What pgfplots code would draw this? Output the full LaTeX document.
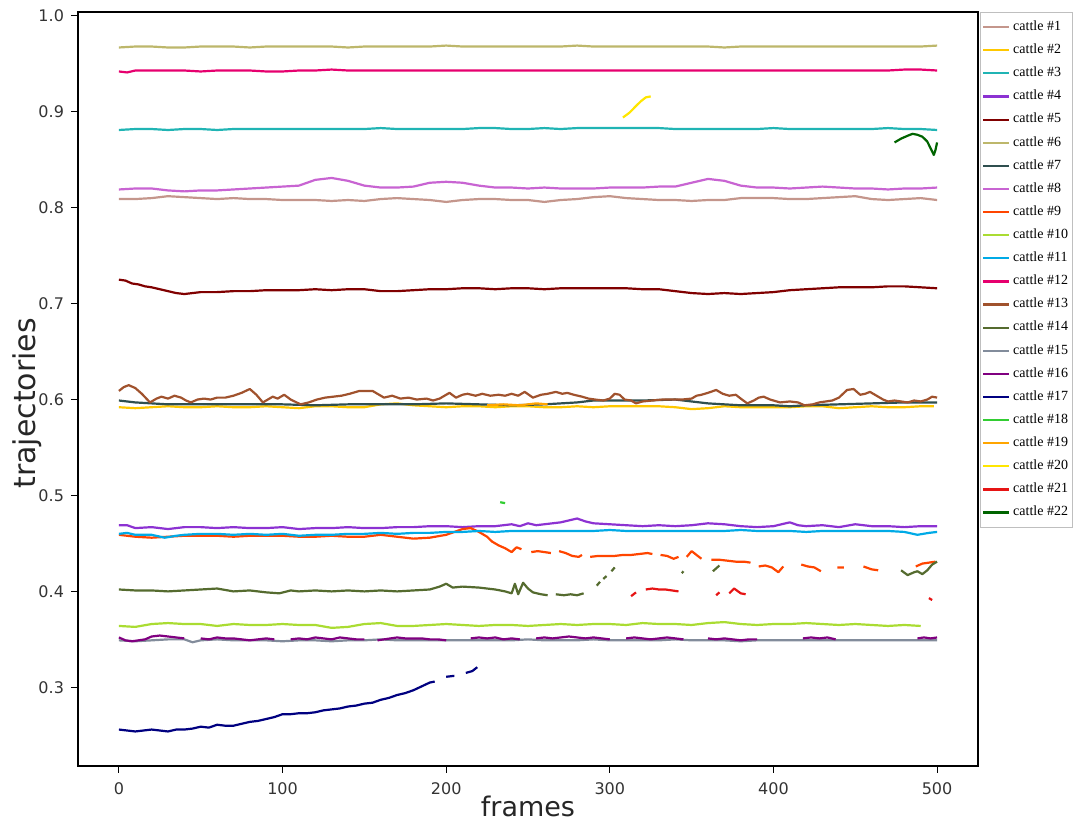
\documentclass[border=0pt]{standalone}
\usepackage{fontspec}
\setmainfont{DejaVu Sans}
\newfontfamily\legfont{Liberation Serif}
\usepackage{pgfplots}
\pgfplotsset{compat=1.18}
\definecolor{c1}{RGB}{196,150,140}
\definecolor{c2}{RGB}{255,200,0}
\definecolor{c3}{RGB}{32,180,180}
\definecolor{c4}{RGB}{140,50,210}
\definecolor{c5}{RGB}{128,0,0}
\definecolor{c6}{RGB}{189,183,107}
\definecolor{c7}{RGB}{47,79,79}
\definecolor{c8}{RGB}{200,100,210}
\definecolor{c9}{RGB}{255,69,0}
\definecolor{c10}{RGB}{170,220,50}
\definecolor{c11}{RGB}{0,170,230}
\definecolor{c12}{RGB}{230,0,110}
\definecolor{c13}{RGB}{160,82,45}
\definecolor{c14}{RGB}{85,107,47}
\definecolor{c15}{RGB}{130,140,155}
\definecolor{c16}{RGB}{128,0,128}
\definecolor{c17}{RGB}{0,0,128}
\definecolor{c18}{RGB}{50,205,50}
\definecolor{c19}{RGB}{255,165,0}
\definecolor{c20}{RGB}{255,230,0}
\definecolor{c21}{RGB}{230,20,20}
\definecolor{c22}{RGB}{0,100,0}
\begin{document}
\begin{tikzpicture}
\begin{axis}[
  name=ax,
  scale only axis,
  width=450pt, height=377pt,
  xmin=-25, xmax=525,
  ymin=0.218, ymax=1.004,
  xtick={0,100,200,300,400,500},
  ytick={0.3,0.4,0.5,0.6,0.7,0.8,0.9,1.0},
  yticklabel style={/pgf/number format/fixed,/pgf/number format/precision=1,/pgf/number format/fixed zerofill},
  xticklabel style={yshift=-1.5pt},
  /pgf/number format/assume math mode=true,
  tick pos=left,
  tick align=outside,
  major tick length=3.5pt,
  tick style={black, line width=0.5pt},
  axis line style={black, line width=0.6pt},
  ticklabel style={font=\fontsize{8}{9}\selectfont, text=black!80},
  xlabel={frames}, ylabel={trajectories},
  xlabel style={font=\fontsize{13.5}{15}\selectfont, text=black!85, at={(axis description cs:0.5,-0.053)}, anchor=center},
  ylabel style={font=\fontsize{15}{17}\selectfont, text=black!85, at={(axis description cs:-0.0567,0.481)}, anchor=center},
  unbounded coords=jump,
  every axis plot/.append style={line width=1.1pt, line join=round},
  legend cell align=left,
  legend style={at={(axis description cs:1,1)}, anchor=north west, xshift=1pt,
    draw=black!25, font=\legfont\fontsize{7}{8}\selectfont, row sep=0.8pt,
    inner xsep=1pt,
    nodes={inner xsep=1.3pt, inner ysep=2.2pt}},
  legend image code/.code={\draw[#1] (0pt,0pt) -- (13pt,0pt);},
]
% cattle 1
\addplot[c1] coordinates {(0,0.809)(10,0.809)(20,0.810)(30,0.812)(40,0.811)(50,0.810)(60,0.809)(70,0.810)(80,0.809)(90,0.809)(100,0.808)(110,0.808)(120,0.808)(130,0.807)(140,0.808)(150,0.807)(160,0.809)(170,0.810)(180,0.809)(190,0.808)(200,0.806)(210,0.808)(220,0.809)(230,0.809)(240,0.808)(250,0.808)(260,0.806)(270,0.808)(280,0.809)(290,0.811)(300,0.812)(310,0.810)(320,0.809)(330,0.808)(340,0.808)(350,0.807)(360,0.808)(370,0.808)(380,0.810)(390,0.810)(400,0.810)(410,0.809)(420,0.809)(430,0.810)(440,0.811)(450,0.812)(460,0.809)(470,0.808)(480,0.809)(490,0.810)(500,0.808)};
\addlegendentry{cattle \#1}
% cattle 2
\addplot[c2] coordinates {(0,0.592)(10,0.591)(20,0.592)(30,0.593)(40,0.592)(50,0.592)(60,0.593)(70,0.592)(80,0.592)(90,0.593)(100,0.592)(110,0.591)(120,0.593)(130,0.593)(140,0.592)(150,0.592)(160,0.595)(170,0.596)(180,0.594)(190,0.593)(200,0.592)(210,0.593)(220,0.593)(230,0.592)(240,0.593)(250,0.593)(260,0.592)(270,0.592)(280,0.593)(290,0.592)(300,0.593)(310,0.593)(320,0.593)(330,0.593)(340,0.592)(350,0.590)(360,0.591)(370,0.593)(380,0.592)(390,0.592)(400,0.592)(410,0.592)(420,0.593)(430,0.593)(440,0.591)(450,0.592)(460,0.593)(470,0.592)(480,0.592)(490,0.593)(498,0.593)};
\addlegendentry{cattle \#2}
% cattle 3
\addplot[c3] coordinates {(0,0.881)(10,0.882)(20,0.882)(30,0.881)(40,0.882)(50,0.882)(60,0.881)(70,0.882)(80,0.882)(90,0.882)(100,0.882)(110,0.882)(120,0.882)(130,0.882)(140,0.882)(150,0.882)(160,0.883)(170,0.882)(180,0.882)(190,0.882)(200,0.882)(210,0.882)(220,0.883)(230,0.883)(240,0.882)(250,0.882)(260,0.883)(270,0.882)(280,0.883)(290,0.883)(300,0.883)(310,0.883)(320,0.883)(330,0.883)(340,0.882)(350,0.882)(360,0.882)(370,0.882)(380,0.882)(390,0.882)(400,0.883)(410,0.882)(420,0.882)(430,0.882)(440,0.882)(450,0.882)(460,0.882)(470,0.883)(480,0.882)(490,0.882)(500,0.881)};
\addlegendentry{cattle \#3}
% cattle 4
\addplot[c4] coordinates {(0,0.469)(5,0.469)(10,0.466)(20,0.467)(30,0.465)(40,0.467)(50,0.467)(60,0.466)(70,0.467)(80,0.466)(90,0.466)(100,0.467)(110,0.465)(120,0.466)(130,0.466)(140,0.467)(150,0.466)(160,0.466)(170,0.467)(180,0.467)(190,0.468)(200,0.468)(210,0.467)(220,0.468)(230,0.468)(240,0.470)(245,0.468)(250,0.471)(255,0.469)(260,0.470)(270,0.472)(275,0.474)(280,0.476)(285,0.473)(290,0.471)(300,0.470)(310,0.469)(320,0.468)(330,0.469)(340,0.468)(350,0.469)(360,0.471)(370,0.470)(380,0.468)(390,0.467)(400,0.468)(410,0.472)(415,0.469)(420,0.468)(430,0.469)(440,0.467)(450,0.470)(460,0.468)(470,0.468)(480,0.467)(490,0.468)(500,0.468)};
\addlegendentry{cattle \#4}
% cattle 5
\addplot[c5] coordinates {(0,0.725)(4,0.724)(8,0.721)(12,0.720)(16,0.718)(20,0.717)(25,0.715)(30,0.713)(35,0.711)(40,0.710)(45,0.711)(50,0.712)(60,0.712)(70,0.713)(80,0.713)(90,0.714)(100,0.714)(110,0.714)(120,0.715)(130,0.714)(140,0.715)(150,0.715)(160,0.713)(170,0.713)(180,0.714)(190,0.715)(200,0.715)(210,0.716)(220,0.716)(230,0.715)(240,0.716)(250,0.716)(260,0.715)(270,0.716)(280,0.716)(290,0.716)(300,0.716)(310,0.716)(320,0.715)(330,0.715)(340,0.713)(350,0.711)(360,0.710)(370,0.711)(380,0.710)(390,0.711)(400,0.712)(410,0.714)(420,0.715)(430,0.716)(440,0.717)(450,0.717)(460,0.717)(470,0.718)(480,0.718)(490,0.717)(500,0.716)};
\addlegendentry{cattle \#5}
% cattle 6
\addplot[c6] coordinates {(0,0.967)(10,0.968)(20,0.968)(30,0.967)(40,0.967)(50,0.968)(60,0.968)(70,0.968)(80,0.967)(90,0.968)(100,0.968)(110,0.968)(120,0.968)(130,0.968)(140,0.967)(150,0.968)(160,0.968)(170,0.968)(180,0.968)(190,0.968)(200,0.969)(210,0.968)(220,0.968)(230,0.968)(240,0.968)(250,0.968)(260,0.968)(270,0.968)(280,0.969)(290,0.968)(300,0.968)(310,0.968)(320,0.968)(330,0.968)(340,0.968)(350,0.968)(360,0.968)(370,0.967)(380,0.968)(390,0.968)(400,0.968)(410,0.968)(420,0.968)(430,0.968)(440,0.968)(450,0.968)(460,0.968)(470,0.968)(480,0.968)(490,0.968)(500,0.969)};
\addlegendentry{cattle \#6}
% cattle 7
\addplot[c7] coordinates {(0,0.599)(5,0.598)(10,0.597)(20,0.596)(30,0.595)(40,0.595)(60,0.595)(80,0.595)(100,0.595)(120,0.594)(140,0.595)(160,0.595)(180,0.595)(200,0.596)(220,0.595)(240,0.594)(260,0.595)(270,0.596)(280,0.597)(290,0.599)(300,0.599)(320,0.599)(340,0.600)(350,0.598)(360,0.596)(370,0.595)(380,0.594)(400,0.594)(410,0.593)(420,0.594)(440,0.595)(460,0.596)(480,0.597)(500,0.597)};
\addlegendentry{cattle \#7}
% cattle 8
\addplot[c8] coordinates {(0,0.819)(10,0.820)(20,0.820)(30,0.818)(40,0.817)(50,0.818)(60,0.818)(70,0.819)(80,0.820)(90,0.821)(100,0.822)(110,0.823)(120,0.829)(130,0.831)(140,0.828)(150,0.823)(160,0.821)(170,0.821)(180,0.822)(190,0.826)(200,0.827)(210,0.826)(220,0.823)(230,0.821)(240,0.821)(250,0.820)(260,0.821)(270,0.820)(280,0.820)(290,0.820)(300,0.821)(310,0.821)(320,0.821)(330,0.822)(340,0.822)(350,0.826)(360,0.830)(370,0.828)(380,0.823)(390,0.821)(400,0.821)(410,0.820)(420,0.821)(430,0.822)(440,0.821)(450,0.820)(460,0.820)(470,0.819)(480,0.820)(490,0.820)(500,0.821)};
\addlegendentry{cattle \#8}
% cattle 9
\addplot[c9] coordinates {(0,0.459)(5,0.458)(10,0.457)(20,0.456)(30,0.457)(40,0.458)(50,0.458)(60,0.458)(70,0.457)(80,0.458)(90,0.458)(100,0.458)(110,0.457)(120,0.457)(130,0.458)(140,0.457)(150,0.457)(160,0.459)(170,0.457)(180,0.455)(190,0.456)(200,0.459)(205,0.462)(210,0.465)(215,0.466)(220,0.462)(225,0.457)(228,0.452)(232,0.448)(236,0.445)(240,0.441)(243,0.446)(246,0.444)(248,nan)(252,0.441)(256,0.442)(260,0.441)(264,0.440)(266,nan)(269,0.442)(273,0.440)(277,0.437)(281,0.436)(283,0.438)(285,nan)(288,0.436)(293,0.437)(298,0.437)(303,0.437)(308,0.438)(313,0.438)(318,0.439)(323,0.440)(326,0.439)(328,nan)(331,0.438)(335,0.437)(339,0.434)(342,0.436)(344,nan)(347,0.436)(350,0.442)(353,0.438)(356,0.434)(358,nan)(362,0.433)(367,0.433)(372,0.432)(377,0.431)(382,0.431)(386,0.430)(388,nan)(391,0.426)(395,0.427)(399,0.425)(403,0.420)(406,0.426)(408,nan)(417,0.428)(421,0.426)(425,0.425)(429,0.421)(431,nan)(439,0.425)(443,0.425)(445,nan)(455,0.426)(460,0.423)(464,0.422)(466,nan)(487,0.426)(491,0.429)(495,0.430)(499,0.431)};
\addlegendentry{cattle \#9}
% cattle 10
\addplot[c10] coordinates {(0,0.364)(10,0.363)(20,0.366)(30,0.367)(40,0.366)(50,0.366)(60,0.364)(70,0.366)(80,0.365)(90,0.365)(100,0.366)(110,0.365)(120,0.365)(130,0.362)(140,0.363)(150,0.366)(160,0.367)(170,0.364)(180,0.364)(190,0.365)(200,0.366)(210,0.365)(220,0.364)(230,0.365)(240,0.365)(250,0.364)(260,0.365)(270,0.366)(280,0.365)(290,0.366)(300,0.366)(310,0.365)(320,0.367)(330,0.366)(340,0.366)(350,0.365)(360,0.367)(370,0.368)(380,0.366)(390,0.365)(400,0.366)(410,0.366)(420,0.367)(430,0.366)(440,0.365)(450,0.366)(460,0.365)(470,0.364)(480,0.365)(490,0.364)};
\addlegendentry{cattle \#10}
% cattle 11
\addplot[c11] coordinates {(0,0.460)(5,0.461)(10,0.459)(20,0.459)(28,0.456)(35,0.458)(40,0.459)(50,0.460)(60,0.460)(70,0.459)(80,0.460)(90,0.459)(100,0.460)(110,0.458)(120,0.459)(130,0.459)(140,0.460)(150,0.460)(160,0.461)(170,0.460)(180,0.461)(190,0.461)(200,0.462)(210,0.462)(220,0.463)(230,0.462)(240,0.463)(250,0.463)(260,0.463)(270,0.463)(280,0.463)(290,0.463)(300,0.464)(310,0.463)(320,0.463)(330,0.463)(340,0.463)(350,0.463)(360,0.463)(370,0.463)(380,0.464)(390,0.463)(400,0.463)(410,0.463)(420,0.462)(430,0.463)(440,0.463)(450,0.463)(460,0.463)(470,0.463)(480,0.462)(488,0.459)(495,0.461)(500,0.462)};
\addlegendentry{cattle \#11}
% cattle 12
\addplot[c12] coordinates {(0,0.942)(5,0.941)(10,0.943)(20,0.943)(30,0.943)(40,0.943)(50,0.942)(60,0.943)(70,0.943)(80,0.943)(90,0.942)(100,0.942)(110,0.943)(120,0.943)(130,0.944)(140,0.943)(150,0.943)(160,0.943)(170,0.943)(180,0.943)(190,0.943)(200,0.943)(210,0.943)(220,0.943)(230,0.943)(240,0.943)(250,0.943)(260,0.943)(270,0.943)(280,0.943)(290,0.943)(300,0.943)(310,0.943)(320,0.943)(330,0.943)(340,0.943)(350,0.943)(360,0.943)(370,0.943)(380,0.943)(390,0.943)(400,0.943)(410,0.943)(420,0.943)(430,0.943)(440,0.943)(450,0.943)(460,0.943)(470,0.943)(480,0.944)(490,0.944)(500,0.943)};
\addlegendentry{cattle \#12}
% cattle 13
\addplot[c13] coordinates {(0,0.609)(3,0.613)(6,0.615)(10,0.612)(14,0.606)(19,0.597)(23,0.601)(26,0.603)(30,0.601)(34,0.604)(38,0.602)(41,0.599)(44,0.597)(48,0.600)(52,0.601)(56,0.600)(60,0.602)(65,0.602)(70,0.604)(75,0.607)(80,0.611)(84,0.605)(88,0.597)(91,0.600)(94,0.603)(97,0.601)(101,0.605)(105,0.600)(111,0.595)(116,0.597)(121,0.600)(126,0.602)(131,0.603)(136,0.604)(141,0.606)(147,0.609)(155,0.609)(162,0.602)(167,0.604)(172,0.601)(177,0.602)(182,0.600)(188,0.601)(192,0.599)(196,0.601)(202,0.607)(206,0.602)(210,0.605)(213,0.606)(218,0.604)(222,0.606)(227,0.604)(232,0.605)(236,0.604)(240,0.606)(244,0.604)(248,0.608)(253,0.602)(258,0.605)(262,0.606)(267,0.608)(271,0.606)(274,0.607)(278,0.605)(283,0.603)(287,0.601)(291,0.600)(296,0.599)(300,0.601)(303,0.606)(306,0.605)(309,0.600)(313,0.599)(316,0.596)(320,0.598)(326,0.599)(332,0.600)(338,0.600)(344,0.600)(350,0.601)(353,0.604)(356,0.605)(360,0.607)(365,0.610)(369,0.606)(373,0.604)(377,0.605)(380,0.601)(384,0.596)(388,0.599)(391,0.602)(394,0.603)(398,0.600)(404,0.597)(410,0.598)(415,0.597)(419,0.594)(424,0.595)(428,0.597)(432,0.598)(436,0.599)(440,0.602)(445,0.610)(449,0.611)(453,0.605)(456,0.606)(459,0.608)(463,0.604)(467,0.600)(470,0.598)(474,0.599)(478,0.598)(482,0.597)(486,0.599)(490,0.598)(494,0.600)(497,0.603)(500,0.602)};
\addlegendentry{cattle \#13}
% cattle 14
\addplot[c14] coordinates {(0,0.402)(10,0.401)(20,0.401)(30,0.400)(40,0.401)(50,0.402)(60,0.403)(70,0.400)(80,0.401)(90,0.399)(98,0.398)(105,0.401)(110,0.400)(120,0.401)(130,0.400)(140,0.401)(150,0.400)(160,0.401)(170,0.400)(180,0.401)(190,0.402)(196,0.405)(200,0.408)(204,0.404)(210,0.405)(220,0.404)(230,0.402)(236,0.400)(240,0.398)(242,0.408)(244,0.397)(247,0.409)(250,0.403)(253,0.399)(258,0.397)(262,0.396)(264,nan)(267,0.397)(272,0.396)(276,0.397)(280,0.396)(284,0.398)(286,nan)(292,0.406)(294,0.410)(295,nan)(296,0.413)(298,0.416)(299,nan)(301,0.421)(303,0.425)(305,nan)(344,0.419)(345,0.421)(346,nan)(363,0.421)(365,0.424)(367,0.427)(369,nan)(478,0.422)(482,0.417)(486,0.420)(488,0.421)(491,0.418)(494,0.422)(497,0.428)(500,0.431)};
\addlegendentry{cattle \#14}
% cattle 15
\addplot[c15] coordinates {(0,0.349)(10,0.348)(20,0.349)(30,0.350)(40,0.350)(45,0.347)(50,0.349)(60,0.350)(70,0.349)(80,0.349)(90,0.349)(100,0.348)(110,0.349)(120,0.349)(130,0.348)(140,0.349)(150,0.349)(160,0.350)(170,0.349)(180,0.349)(190,0.349)(200,0.349)(210,0.349)(220,0.349)(230,0.349)(240,0.349)(250,0.350)(260,0.349)(270,0.349)(280,0.349)(290,0.350)(300,0.349)(310,0.349)(320,0.349)(330,0.349)(340,0.350)(350,0.349)(360,0.349)(370,0.349)(380,0.348)(390,0.349)(400,0.349)(410,0.349)(420,0.349)(430,0.349)(440,0.349)(450,0.349)(460,0.349)(470,0.349)(480,0.349)(490,0.349)(500,0.349)};
\addlegendentry{cattle \#15}
% cattle 16
\addplot[c16] coordinates {(0,0.352)(4,0.349)(8,0.348)(12,0.349)(16,0.350)(20,0.353)(25,0.354)(30,0.353)(35,0.352)(40,0.351)(42,nan)(50,0.351)(55,0.350)(60,0.352)(65,0.351)(70,0.351)(75,0.350)(80,0.349)(85,0.350)(90,0.351)(95,0.350)(98,nan)(105,0.350)(110,0.351)(115,0.350)(120,0.352)(125,0.351)(130,0.350)(135,0.352)(140,0.351)(145,0.350)(150,0.350)(152,nan)(158,0.349)(162,0.350)(166,0.351)(170,0.352)(175,0.351)(180,0.351)(185,0.351)(190,0.350)(195,0.350)(200,0.349)(202,nan)(215,0.351)(220,0.352)(225,0.351)(230,0.352)(235,0.350)(240,0.351)(245,0.350)(247,nan)(255,0.351)(260,0.352)(265,0.351)(270,0.352)(275,0.353)(280,0.352)(285,0.351)(290,0.352)(295,0.351)(300,0.350)(302,nan)(310,0.351)(315,0.352)(320,0.351)(325,0.350)(330,0.351)(335,0.352)(340,0.351)(345,0.350)(347,nan)(360,0.351)(365,0.350)(370,0.351)(375,0.350)(380,0.349)(385,0.350)(390,0.350)(393,nan)(418,0.351)(423,0.352)(428,0.351)(433,0.352)(438,0.350)(440,nan)(488,0.351)(492,0.352)(496,0.351)(500,0.352)};
\addlegendentry{cattle \#16}
% cattle 17
\addplot[c17] coordinates {(0,0.256)(5,0.255)(10,0.254)(15,0.255)(20,0.256)(25,0.255)(30,0.254)(35,0.256)(40,0.256)(45,0.257)(50,0.259)(55,0.258)(60,0.261)(65,0.260)(70,0.260)(75,0.262)(80,0.264)(85,0.265)(90,0.267)(95,0.269)(100,0.272)(105,0.272)(110,0.273)(115,0.273)(120,0.274)(125,0.276)(130,0.277)(135,0.278)(140,0.280)(145,0.281)(150,0.283)(155,0.284)(160,0.287)(165,0.289)(170,0.292)(175,0.294)(180,0.297)(185,0.301)(190,0.305)(193,0.306)(194,nan)(200,0.311)(205,0.312)(206,nan)(212,0.315)(216,0.317)(219,0.321)};
\addlegendentry{cattle \#17}
% cattle 18
\addplot[c18] coordinates {(233,0.493)(236,0.492)};
\addlegendentry{cattle \#18}
% cattle 19
\addplot[c19] coordinates {(225,0.594)(235,0.595)(245,0.594)(255,0.596)(262,0.595)};
\addlegendentry{cattle \#19}
% cattle 20
\addplot[c20] coordinates {(308,0.894)(312,0.899)(316,0.906)(319,0.911)(322,0.915)(325,0.916)};
\addlegendentry{cattle \#20}
% cattle 21
\addplot[c21] coordinates {(313,0.395)(316,0.399)(318,nan)(322,0.402)(326,0.403)(330,0.402)(334,0.402)(338,0.401)(342,0.400)(344,nan)(365,0.396)(367,0.399)(369,nan)(373,0.398)(376,0.403)(380,0.398)(383,0.397)(385,nan)(495,0.393)(497,0.391)};
\addlegendentry{cattle \#21}
% cattle 22
\addplot[c22] coordinates {(474,0.868)(478,0.872)(482,0.875)(485,0.877)(488,0.876)(491,0.874)(494,0.869)(496,0.862)(498,0.855)(499,0.860)(500,0.868)};
\addlegendentry{cattle \#22}
\end{axis}
\path (ax.south west) ++(-39pt,-30pt) rectangle ([xshift=47.5pt,yshift=6pt]ax.north east);
\end{tikzpicture}
\end{document}
